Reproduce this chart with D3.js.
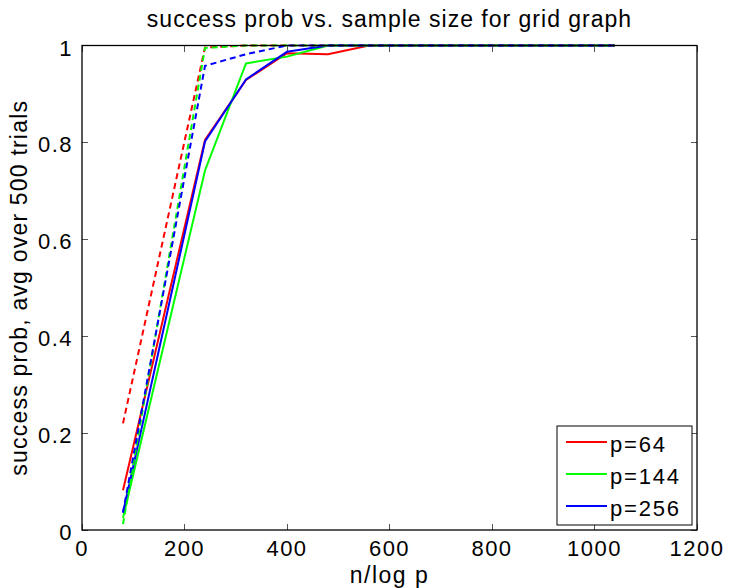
<!DOCTYPE html>
<html lang="en">

<head>
  <meta charset="UTF-8">
  <title>success prob vs. sample size for grid graph</title>
  <script src="https://d3js.org/d3.v7.min.js"></script>
</head>
<style>
  body { margin: 0; background: #fff; }
  text { font-family: "Liberation Sans", Arial, Helvetica, sans-serif; }
</style>

<body>
  <svg width="729" height="588"></svg>
</body>
<script>

  const svg = d3.select("svg");
  const width = +svg.attr('width');
  const height = +svg.attr('height');

  const margin = { top: 45.5, right: 32, bottom: 58, left: 82 }
  const innerWidth = width - margin.left - margin.right;
  const innerHeight = height - margin.top - margin.bottom;

  // n/log p 
  const xValues = [80, 240, 320, 400, 480, 560, 640, 720, 800, 880, 960, 1040];

  // solid
  const p64 = [0.082, 0.805, 0.929, 0.984, 0.982, 1, 1, 1, 1, 1, 1, 1];
  const p144 = [0.025, 0.742, 0.963, 0.977, 1, 1, 1, 1, 1, 1, 1, 1];
  const p256 = [0.036, 0.802, 0.930, 0.987, 1, 1, 1, 1, 1, 1, 1, 1];
  // dashed
  const p64dash = [0.22, 0.996, 1, 1, 1, 1, 1, 1, 1, 1, 1, 1];
  const p144dash = [0.012, 0.995, 1, 1, 1, 1, 1, 1, 1, 1, 1, 1];
  const p256dash = [0.036, 0.958, 0.982, 1, 1, 1, 1, 1, 1, 1, 1, 1];

  const xTicks = [0, 200, 400, 600, 800, 1000, 1200];
  const yTicks = [0, 0.2, 0.4, 0.6, 0.8, 1];
  const yTickLabels = ['0', '0.2', '0.4', '0.6', '0.8', '1'];

  const names = ['p=64', 'p=144', 'p=256'];
  const colors = ['#ff0000', '#00ff00', '#0000ff'];

  const series = [
    { name: names[0], color: colors[0], dash: null, values: p64 },
    { name: names[1], color: colors[1], dash: null, values: p144 },
    { name: names[2], color: colors[2], dash: null, values: p256 },
    { name: names[0], color: colors[0], dash: '6,4', values: p64dash },
    { name: names[1], color: colors[1], dash: '6,4', values: p144dash },
    { name: names[2], color: colors[2], dash: '6,4', values: p256dash }
  ];

  const xScale = d3.scaleLinear().domain([0, 1200]).range([0, innerWidth]);
  const yScale = d3.scaleLinear().domain([0, 1]).range([innerHeight, 0]);

  const maingroup = svg.append("g")
    .attr("transform", `translate(${margin.left},${margin.top})`);

  /**
   * 坐标轴 (matlab style, ticks inside, on all 4 sides)
   */
  const tickLen = 6;
  const ticks = maingroup.append('g').attr('class', 'ticks')
    .attr('stroke', '#555').attr('stroke-width', 1).attr('shape-rendering', 'crispEdges');

  ticks.selectAll('.xt-b').data(xTicks).join('line')
    .attr('x1', d => xScale(d)).attr('x2', d => xScale(d))
    .attr('y1', innerHeight).attr('y2', innerHeight - tickLen);
  ticks.selectAll('.xt-t').data(xTicks).join('line')
    .attr('x1', d => xScale(d)).attr('x2', d => xScale(d))
    .attr('y1', 0).attr('y2', tickLen);
  ticks.selectAll('.yt-l').data(yTicks).join('line')
    .attr('y1', d => yScale(d)).attr('y2', d => yScale(d))
    .attr('x1', 0).attr('x2', tickLen);
  ticks.selectAll('.yt-r').data(yTicks).join('line')
    .attr('y1', d => yScale(d)).attr('y2', d => yScale(d))
    .attr('x1', innerWidth).attr('x2', innerWidth - tickLen);

  // tick labels
  maingroup.append('g').selectAll('text').data(xTicks).join('text')
    .attr('x', d => xScale(d))
    .attr('y', innerHeight + 26)
    .attr('text-anchor', 'middle')
    .attr('font-size', '22px')
    .attr('letter-spacing', '1.5px')
    .text(d => d);

  maingroup.append('g').selectAll('text').data(yTicks).join('text')
    .attr('x', -9)
    .attr('y', d => yScale(d) + 10)
    .attr('text-anchor', 'end')
    .attr('font-size', '22px')
    .attr('letter-spacing', '1.5px')
    .text((d, i) => yTickLabels[i]);

  /**
   * 折线
   */
  const line = d3.line()
    .x((d, i) => xScale(xValues[i]))
    .y(d => yScale(d));

  maingroup.append('g').attr('class', 'lines')
    .selectAll('path').data(series).join('path')
    .attr('d', d => line(d.values))
    .attr('fill', 'none')
    .attr('stroke', d => d.color)
    .attr('stroke-width', 2)
    .attr('stroke-dasharray', d => d.dash);

  // axes box on top of lines
  maingroup.append('rect')
    .attr('width', innerWidth)
    .attr('height', innerHeight)
    .attr('fill', 'none')
    .attr('stroke', '#000')
    .attr('stroke-width', 1.3);

  /**
   * 图例
   */
  const legend = maingroup.append('g')
    .attr('transform', `translate(${innerWidth - 140},${innerHeight - 104})`);

  legend.append('rect')
    .attr('width', 135)
    .attr('height', 99)
    .attr('fill', '#fff')
    .attr('stroke', '#000')
    .attr('stroke-width', 1);

  const items = legend.selectAll('.item').data(names).join('g')
    .attr('class', 'item')
    .attr('transform', (d, i) => `translate(0,${16 + i * 32})`);

  items.append('line')
    .attr('x1', 9).attr('x2', 50)
    .attr('stroke', (d, i) => colors[i])
    .attr('stroke-width', 2);

  items.append('text')
    .attr('x', 53)
    .attr('y', 10)
    .attr('font-size', '22px')
    .attr('letter-spacing', '1.8px')
    .text(d => d);

  /**
   * 标题 和 轴名
   */
  svg.append('text')
    .attr('x', margin.left + innerWidth / 2)
    .attr('y', 27)
    .attr('text-anchor', 'middle')
    .attr('font-size', '23px')
    .attr('letter-spacing', '1px')
    .text('success prob vs. sample size for grid graph');

  svg.append('text')
    .attr('x', margin.left + innerWidth / 2)
    .attr('y', 583)
    .attr('text-anchor', 'middle')
    .attr('font-size', '23px')
    .attr('letter-spacing', '1.5px')
    .text('n/log p');

  svg.append('text')
    .attr('transform', `translate(27,${margin.top + innerHeight / 2}) rotate(-90)`)
    .attr('text-anchor', 'middle')
    .attr('font-size', '23px')
    .attr('letter-spacing', '1.2px')
    .text('success prob, avg over 500 trials');

</script>

</html>
